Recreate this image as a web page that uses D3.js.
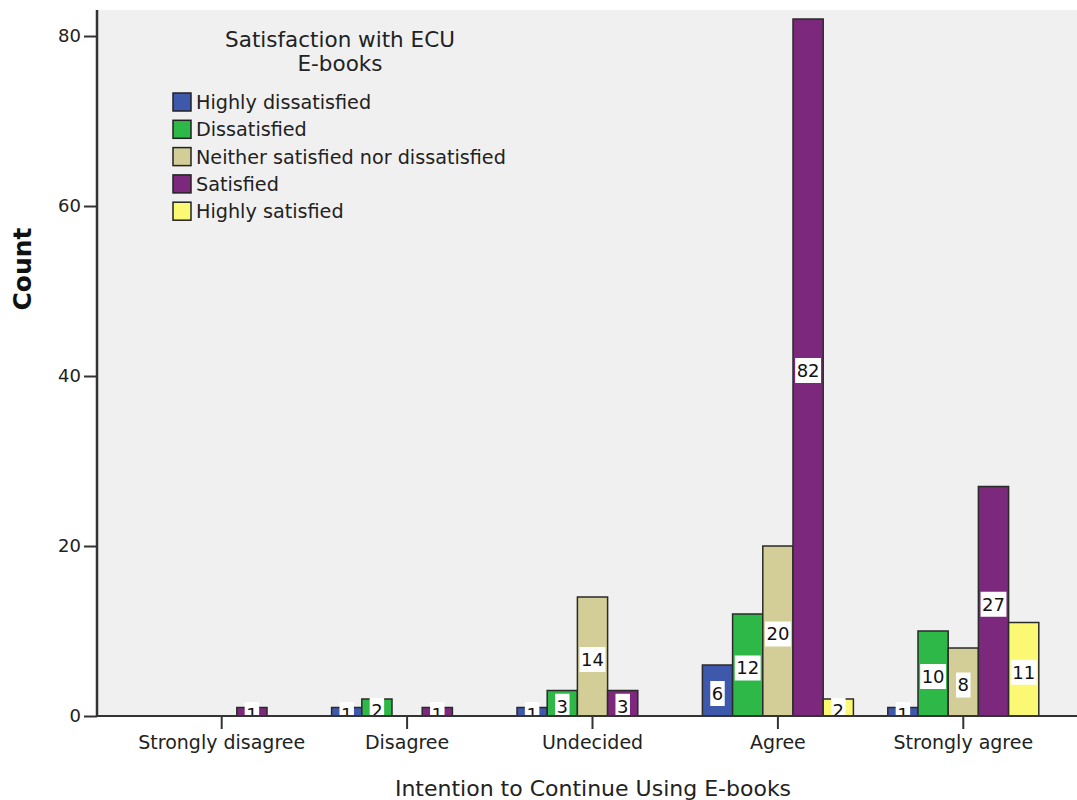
<!DOCTYPE html>
<html><head><meta charset="utf-8">
<script src="https://cdn.jsdelivr.net/npm/d3@7"></script>
<style>body{margin:0;background:#fff}svg{display:block;font-family:"DejaVu Sans",Verdana,sans-serif}</style>
</head><body>
<svg id="c" width="1077" height="800"></svg>
<script>
const categories = ["Strongly disagree","Disagree","Undecided","Agree","Strongly agree"];
const seriesNames = ["Highly dissatisfied","Dissatisfied","Neither satisfied nor dissatisfied","Satisfied","Highly satisfied"];
const seriesColors = ["#3e58ac","#2eb848","#d3ce97","#7c287d","#fbf873"];
const highlyDissatisfied = [0,1,1,6,1];
const dissatisfied = [0,2,3,12,10];
const neither = [0,0,14,20,8];
const satisfied = [1,1,3,82,27];
const highlySatisfied = [0,0,0,2,11];
const yTicks = [0,20,40,60,80];
const seriesValues = [highlyDissatisfied,dissatisfied,neither,satisfied,highlySatisfied];

const FONT = "DejaVu Sans, Verdana, sans-serif";
const svg = d3.select("#c");
const plot = {left:97, top:10, right:1077, bottom:716};
const y = d3.scaleLinear().domain([0,83.06]).range([plot.bottom, plot.top]);
const x = d3.scaleBand().domain(categories).range([129,1056]).padding(0);
const groupW = 151;
const xi = d3.scaleBand().domain(seriesNames).range([0,groupW]).padding(0);

svg.append("rect").attr("x",plot.left).attr("y",plot.top).attr("width",plot.right-plot.left).attr("height",plot.bottom-plot.top).attr("fill","#f0f0f0");

svg.append("defs").append("clipPath").attr("id","pc").append("rect")
  .attr("x",plot.left).attr("y",plot.top).attr("width",plot.right-plot.left).attr("height",plot.bottom-plot.top);

const data = [];
categories.forEach((c,ci)=>seriesNames.forEach((s,si)=>{
  const v = seriesValues[si][ci];
  if(v>0) data.push({c,s,si,v});
}));

const g = svg.append("g").attr("clip-path","url(#pc)");
g.selectAll("rect.bar").data(data).join("rect").attr("class","bar")
  .attr("x",d=>x(d.c)+x.bandwidth()/2-groupW/2+xi(d.s))
  .attr("y",d=>y(d.v))
  .attr("width",xi.bandwidth())
  .attr("height",d=>y(0)-y(d.v))
  .attr("fill",d=>seriesColors[d.si])
  .attr("stroke","#2a2a2a").attr("stroke-width",1.5);

// labels
const lab = g.selectAll("g.lab").data(data).join("g").attr("class","lab")
  .attr("transform",d=>`translate(${x(d.c)+x.bandwidth()/2-groupW/2+xi(d.s)+xi.bandwidth()/2},${(y(d.v)+y(0))/2+3})`);
lab.each(function(d){
  const s = d3.select(this);
  const t = s.append("text").attr("text-anchor","middle").attr("dy","0.36em").attr("font-size",18).attr("fill","#111").attr("font-family",FONT).text(String(d.v));
  const w = t.node().getComputedTextLength()+3;
  s.insert("rect","text").attr("x",-w/2).attr("y",-12.5).attr("width",w).attr("height",25).attr("fill","#fff");
});

// axes
const ya = svg.append("g").attr("transform",`translate(${plot.left},0)`)
  .call(d3.axisLeft(y).tickValues(yTicks).tickSize(13).tickSizeOuter(0).tickPadding(3));
ya.select(".domain").remove();
ya.selectAll(".tick line").attr("stroke","#333").attr("stroke-width",2);
ya.selectAll(".tick text").attr("font-size",18).attr("fill","#222").attr("font-family",FONT);
svg.append("line").attr("x1",plot.left).attr("x2",plot.left).attr("y1",plot.top).attr("y2",plot.bottom+1).attr("stroke","#333").attr("stroke-width",2.5);

const xa = svg.append("g").attr("transform",`translate(0,${plot.bottom})`)
  .call(d3.axisBottom(x).tickSize(13).tickSizeOuter(0).tickPadding(7));
xa.select(".domain").remove();
xa.selectAll(".tick line").attr("stroke","#333").attr("stroke-width",2);
xa.selectAll(".tick text").attr("font-size",19).attr("fill","#222").attr("font-family",FONT);
svg.append("line").attr("x1",plot.left-1).attr("x2",plot.right).attr("y1",plot.bottom).attr("y2",plot.bottom).attr("stroke","#333").attr("stroke-width",2);

// axis titles
svg.append("text").attr("x",593).attr("y",796).attr("text-anchor","middle").attr("font-size",22).attr("fill","#222").text("Intention to Continue Using E-books");
svg.append("text").attr("transform","translate(31,269) rotate(-90)").attr("text-anchor","middle").attr("font-size",25).attr("font-weight","bold").attr("fill","#111").text("Count");

// legend
const leg = svg.append("g");
leg.append("text").attr("x",340).attr("y",47).attr("text-anchor","middle").attr("font-size",21.5).attr("fill","#222").text("Satisfaction with ECU");
leg.append("text").attr("x",340).attr("y",71).attr("text-anchor","middle").attr("font-size",21.5).attr("fill","#222").text("E-books");
const li = leg.selectAll("g.li").data(seriesNames).join("g").attr("class","li")
  .attr("transform",(d,i)=>`translate(173,${102+i*27.3})`);
li.append("rect").attr("x",0).attr("y",-9).attr("width",18).attr("height",18)
  .attr("fill",(d,i)=>seriesColors[i]).attr("stroke","#222").attr("stroke-width",1.5);
li.append("text").attr("x",23).attr("dy","0.36em").attr("font-size",19.2).attr("fill","#222").text(d=>d);
</script>
</body></html>
